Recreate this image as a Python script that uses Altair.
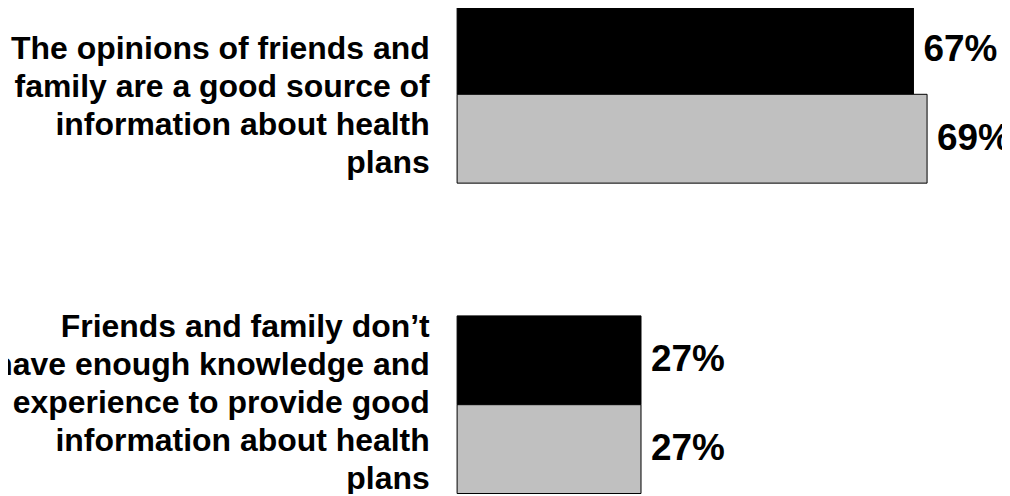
import altair as alt
import pandas as pd

# ---- data ----
statements = [
    "The opinions of friends and|family are a good source of|information about health|plans",
    "Friends and family don\u2019t|have enough knowledge and|experience to provide good|information about health|plans",
]
series = ["Series 1", "Series 2"]
values_series1 = [67, 27]
values_series2 = [69, 27]

rows = []
for i, s in enumerate(statements):
    for ser, vals in zip(series, [values_series1, values_series2]):
        rows.append({"statement": s, "series": ser, "value": vals[i], "label": f"{vals[i]}%"})
df = pd.DataFrame(rows)

FONT = "Liberation Sans, Arial, Helvetica, sans-serif"

base = alt.Chart(df).encode(
    y=alt.Y(
        "statement:N",
        sort=statements,
        scale=alt.Scale(paddingInner=0.4277, paddingOuter=0),
        axis=alt.Axis(
            title=None,
            labelExpr="split(datum.label, '|')",
            labelFont=FONT,
            labelFontSize=32,
            labelFontWeight="bold",
            labelColor="black",
            labelLineHeight=38,
            labelLimit=1000,
            labelPadding=28,
            labelAlign="right",
            labelOffset={"condition": {"test": f"datum.value == '{statements[0]}'", "value": -45}, "value": -78},
            ticks=False,
            tickSize=0,
            domain=False,
            grid=False,
        ),
    ),
    yOffset=alt.YOffset("series:N", sort=series, scale=alt.Scale(paddingInner=0, paddingOuter=0)),
)

x_enc = alt.X("value:Q", scale=alt.Scale(domain=[0, 80], nice=False, zero=True), axis=None)

bars = base.mark_bar(stroke="black", strokeWidth=1).encode(
    x=x_enc,
    color=alt.Color(
        "series:N",
        scale=alt.Scale(domain=series, range=["#000000", "#c0c0c0"]),
        legend=None,
    ),
)

text = base.mark_text(
    align="left", baseline="middle", dx=10, font=FONT, fontSize=37, fontWeight="bold", color="black"
).encode(x=x_enc, text="label:N")

chart = (
    (bars + text)
    .properties(
        width=546,
        height=489,
        autosize="none",
        padding={"left": 450, "top": -3, "right": 0, "bottom": 0},
        background="white",
    )
    .configure_view(stroke=None)
)

chart.save("out.html", embed_options={"renderer": "svg", "actions": False})
